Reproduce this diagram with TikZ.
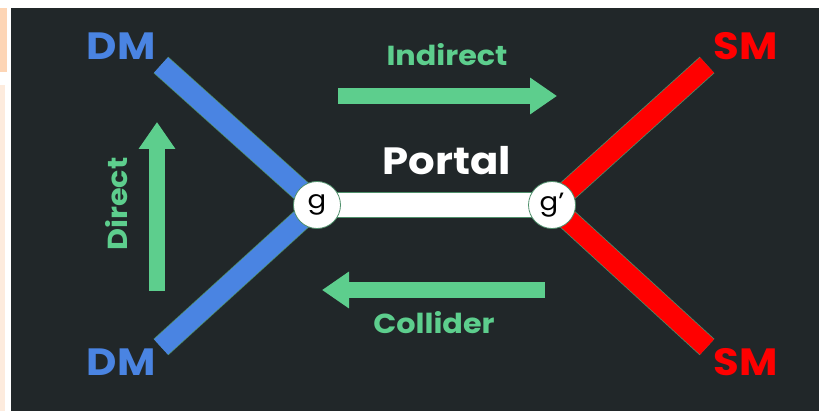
\documentclass[tikz,border=0pt]{standalone}
\usepackage{fontspec}
\setmainfont{Poppins}[FakeStretch=1.1]
\usetikzlibrary{arrows.meta,positioning}

\definecolor{bgdark}{HTML}{212729}
\definecolor{dmblue}{HTML}{4A84E2}
\definecolor{smred}{HTML}{FF0000}
\definecolor{flowgreen}{HTML}{5DCE8D}
\definecolor{edgegreen}{HTML}{4E8F6A}
\definecolor{peach}{HTML}{FDD5B5}
\definecolor{lightpeach}{HTML}{FDEBDD}

\begin{document}
\begin{tikzpicture}[x=1pt,y=-1pt,
	leg/.style={line width=22pt,draw=edgegreen,line cap=butt},
	legfill/.style={line width=20.5pt,line cap=butt},
	particle/.style={font=\bfseries\fontsize{38}{40}\selectfont,inner sep=0pt},
	flow/.style={line width=16.5pt,draw=flowgreen,-{Triangle[length=27pt,width=35pt]}},
	flowlabel/.style={font=\bfseries\fontsize{27.5}{30}\selectfont,text=flowgreen,inner sep=0pt},
	vertex/.style={circle,draw=edgegreen,fill=white,line width=0.8pt,minimum size=47pt,inner sep=0pt,font=\fontsize{25}{27}\selectfont}]
% frame
\useasboundingbox (0,0) rectangle (819,411);
\fill[white] (0,0) rectangle (819,411);
\fill[peach] (0,8) rectangle (7,72);
\fill[lightpeach] (0,85) rectangle (5,411);
\fill[bgdark] (11,8) rectangle (819,411);

% leg ends
\coordinate (dm1) at (161,65);
\coordinate (dm2) at (161,347);
\coordinate (sm1) at (707,65);
\coordinate (sm2) at (707,347);
\coordinate (vg) at (317,205);
\coordinate (vgp) at (552,205);

% legs
\foreach \a/\b in {dm1/vg,dm2/vg,sm1/vgp,sm2/vgp}
	\draw[leg] (\a) -- (\b);
\draw[legfill,dmblue] (dm1) -- (vg);
\draw[legfill,dmblue] (dm2) -- (vg);
\draw[legfill,smred] (sm1) -- (vgp);
\draw[legfill,smred] (sm2) -- (vgp);

% portal bar
\draw[line width=26pt,edgegreen] (vg) -- (vgp);
\draw[line width=24.5pt,white] (vg) -- (vgp);

\node[vertex] (g) at (vg) {g};
\node[vertex] (gp) at (vgp) {\raisebox{4pt}{g’}};

\node[font=\bfseries\fontsize{38}{40}\selectfont,text=white,inner sep=0pt] (portal) at (447,161) {Portal};

% labels
\node[particle,text=dmblue] (dmtop) at (121,46) {DM};
\node[particle,text=dmblue] (dmbot) at (121,362) {DM};
\node[particle,text=smred] (smtop) at (746,46) {SM};
\node[particle,text=smred] (smbot) at (746,362) {SM};

% processes
\coordinate (ind1) at (338,96);
\coordinate (ind2) at (557,96);
\coordinate (col1) at (545,290);
\coordinate (col2) at (322,290);
\coordinate (dir1) at (157,291);
\coordinate (dir2) at (157,122);
\draw[flow] (ind1) -- (ind2);
\draw[flow] (col1) -- (col2);
\draw[flow] (dir1) -- (dir2);

\node[flowlabel] (indirect) at (447,55) {Indirect};
\node[flowlabel] (collider) at (434,323) {Collider};
\node[flowlabel,rotate=90] (direct) at (117,204) {Direct};
\end{tikzpicture}
\end{document}
